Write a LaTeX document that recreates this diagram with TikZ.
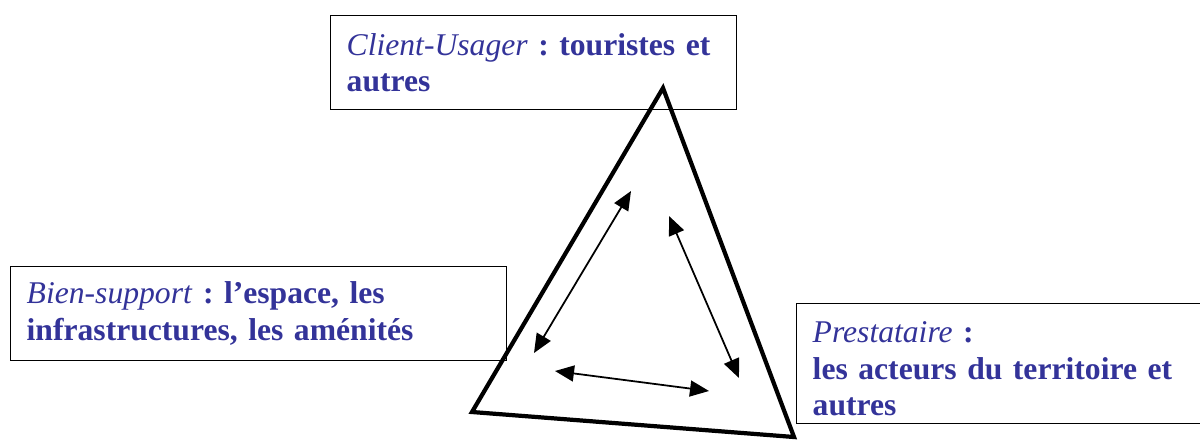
\documentclass[tikz,border=0pt]{standalone}
\usepackage{fontspec}
\setmainfont{Liberation Serif}
\usetikzlibrary{arrows.meta}
\frenchspacing
\definecolor{poleblue}{RGB}{51,51,153}
\tikzstyle{arrow} = [line width=1pt,{Triangle[length=3.8mm,width=3.2mm]}-{Triangle[length=3.8mm,width=3.2mm]}]
\tikzset{pole/.style={draw=black,line width=0.8pt,anchor=north west,align=left,inner xsep=0.32cm,inner ysep=0pt,text=poleblue,font=\fontsize{18}{21}\selectfont\bfseries}}

\begin{document}
\begin{tikzpicture}[x=0.02cm,y=-0.02cm]
    \useasboundingbox (0,0) rectangle (1200,440);

    % the three poles
    \node [pole, text width=7.48cm, minimum height=1.88cm] (client) at (330,15) {\textmd{\textit{Client-Usager}} : touristes et\\autres};
    \node [pole, text width=9.28cm, minimum height=1.88cm] (bien) at (10,266) {\textmd{\textit{Bien-support}} : l’espace, les\\infrastructures, les aménités};
    \node [pole, text width=7.54cm, minimum height=2.4cm] (prestataire) at (796,303) {\rule{0pt}{0.62cm}\textmd{\textit{Prestataire}} :\\les acteurs du territoire et\\autres};

    % triangle
    \coordinate (apex) at (663,88);
    \coordinate (left) at (472,412);
    \coordinate (right) at (794,437);
    \draw [line width=2.4pt, line join=miter] (apex) -- (left) -- (right) -- cycle;

    % exchanges
    \coordinate (a1) at (631,191);
    \coordinate (b1) at (534,353);
    \coordinate (a2) at (669,216);
    \coordinate (b2) at (739,378);
    \coordinate (a3) at (555,371);
    \coordinate (b3) at (709,391);
    \draw [arrow] (a1) -- (b1);
    \draw [arrow] (a2) -- (b2);
    \draw [arrow] (a3) -- (b3);
\end{tikzpicture}
\end{document}
